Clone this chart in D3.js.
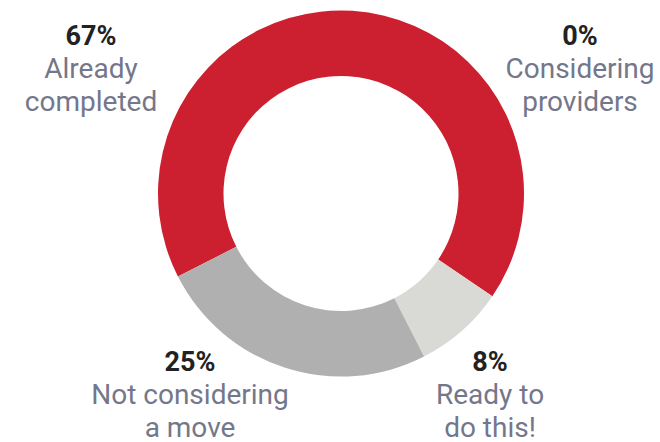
<!DOCTYPE html>
<html>
<head>
<meta charset="utf-8">
<script src="https://cdn.jsdelivr.net/npm/d3@7"></script>
<style>
  html, body { margin: 0; padding: 0; background: #fff; }
  svg { display: block; }
</style>
</head>
<body>
<svg id="chart" width="660" height="442"></svg>
<script>
const categories = ["Already completed", "Ready to do this!", "Not considering a move", "Considering providers"];
const values = [67, 8, 25, 0];
const labelLines = [["Already", "completed"], ["Ready to", "do this!"], ["Not considering", "a move"], ["Considering", "providers"]];
const colors = ["#CC1F2F", "#D9DAD5", "#B0B0B0", "#999999"];

// label anchor positions (layout)
const labelPos = [[91, 45], [490, 371], [190, 371], [580, 45]];

const svg = d3.select("#chart");
const cx = 341, cy = 193.5, rOuter = 183, rInner = 117.5;
const start = -117 * Math.PI / 180;

const pie = d3.pie().sort(null).value(d => d).startAngle(start).endAngle(start + 2 * Math.PI);
const arc = d3.arc().innerRadius(rInner).outerRadius(rOuter);

const g = svg.append("g").attr("transform", `translate(${cx},${cy})`);
g.selectAll("path")
  .data(pie(values))
  .join("path")
  .attr("d", arc)
  .attr("fill", (d, i) => colors[i]);

const lineH = 33;
const labels = svg.selectAll("g.label")
  .data(categories)
  .join("g")
  .attr("class", "label")
  .attr("transform", (d, i) => `translate(${labelPos[i][0]},${labelPos[i][1]})`);

labels.append("text")
  .attr("text-anchor", "middle")
  .attr("font-family", "Roboto, sans-serif")
  .attr("font-weight", 700)
  .attr("font-size", 27)
  .attr("fill", "#222222")
  .text((d, i) => values[i] + "%");

labels.each(function(d, i) {
  const t = d3.select(this).append("text")
    .attr("text-anchor", "middle")
    .attr("font-family", "Roboto, sans-serif")
    .attr("font-size", 28)
    .attr("fill", "#74778A");
  labelLines[i].forEach((ln, j) => {
    t.append("tspan").attr("x", 0).attr("y", lineH * (j + 1)).text(ln);
  });
});
</script>
</body>
</html>
